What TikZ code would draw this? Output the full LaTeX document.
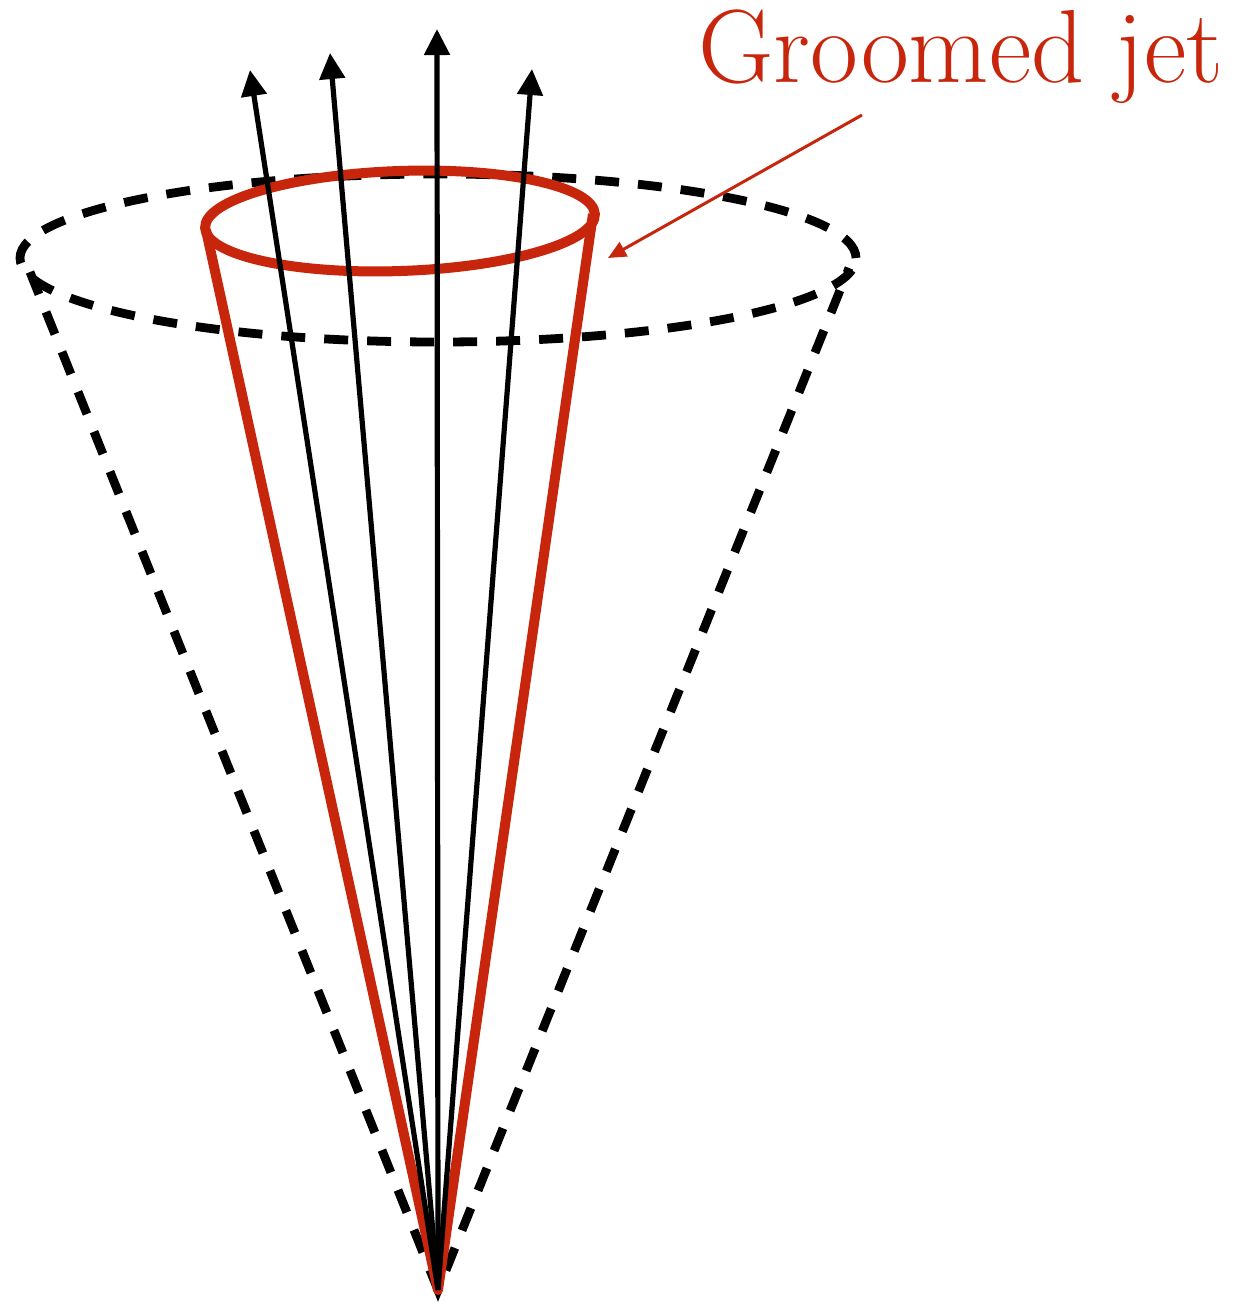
\documentclass[tikz,border=0pt]{standalone}
\usetikzlibrary{arrows.meta}
\definecolor{jetred}{RGB}{200,38,12}
\begin{document}
\begin{tikzpicture}[x=0.5pt,y=-0.5pt,
  conedash/.style={line width=4.4pt,dash pattern=on 12pt off 9.5pt},
  groomed/.style={jetred,line width=5pt,line join=round},
  particle/.style={line width=2.6pt,-{Triangle[length=13pt,width=12.5pt]}},
  pointer/.style={jetred,line width=1.5pt,-{Triangle[length=9pt,width=8pt]}}]
\useasboundingbox (0,0) rectangle (1235,1303);
\coordinate (apex) at (438,1290);
% dashed outer cone
\draw[conedash] (438,258) ellipse [x radius=209pt, y radius=42pt];
\coordinate (dl) at (30,272);
\coordinate (dr) at (849,268);
\draw[conedash] (dl) -- (apex) -- (dr);
% groomed red cone
\draw[groomed,rotate around={2:(400,221)}] (400,221) ellipse [x radius=97.5pt, y radius=25pt];
\coordinate (rl) at (206,230);
\coordinate (rr) at (593,214);
\draw[groomed] (rl) -- (apex) -- (rr);
% particle arrows
\coordinate (t1) at (250,70);
\coordinate (t2) at (330,53);
\coordinate (t3) at (437,29);
\coordinate (t4) at (532,69);
\draw[particle] (apex) -- (t1);
\draw[particle] (apex) -- (t2);
\draw[particle] (apex) -- (t3);
\draw[particle] (apex) -- (t4);
% label
\node[anchor=base east,inner sep=0pt,text=jetred,font=\fontsize{52}{55}\selectfont] (lbl) at (1224,82) {Groomed jet};
\coordinate (ps) at (862,115);
\coordinate (pe) at (608,258);
\draw[pointer] (ps) -- (pe);
\end{tikzpicture}
\end{document}
